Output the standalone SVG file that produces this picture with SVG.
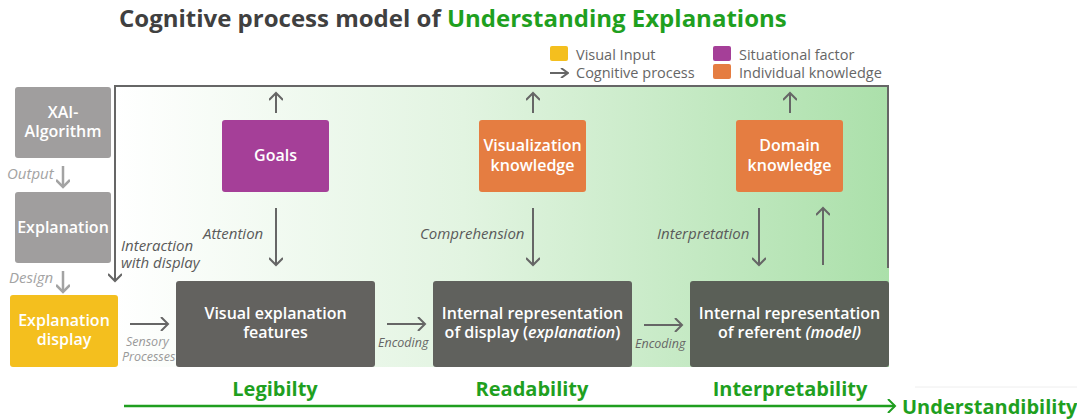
<svg xmlns="http://www.w3.org/2000/svg" width="1077" height="420" viewBox="0 0 1077 420">
<defs>
<linearGradient id="panelGrad" x1="0" y1="0" x2="1" y2="0">
<stop offset="0" stop-color="#ffffff"/>
<stop offset="0.45" stop-color="#e2f4e1"/>
<stop offset="1" stop-color="#abe0aa"/>
</linearGradient>
<marker id="ah" viewBox="0 0 10 10" refX="9" refY="5" markerWidth="10" markerHeight="10" markerUnits="userSpaceOnUse" orient="auto">
<path d="M2,0 L9,5 L2,10" fill="none" stroke="#666" stroke-width="2"/>
</marker>
<marker id="ahL" viewBox="0 0 14 14" refX="12" refY="7" markerWidth="14" markerHeight="14" markerUnits="userSpaceOnUse" orient="auto">
<path d="M5,0 L12,7 L5,14" fill="none" stroke="#666" stroke-width="2"/>
</marker>
<marker id="ahG" viewBox="0 0 14 14" refX="12" refY="7" markerWidth="14" markerHeight="14" markerUnits="userSpaceOnUse" orient="auto">
<path d="M5,0 L12,7 L5,14" fill="none" stroke="#1f9e1f" stroke-width="2"/>
</marker>
<marker id="ahS" viewBox="0 0 14 14" refX="12" refY="7" markerWidth="14" markerHeight="14" markerUnits="userSpaceOnUse" orient="auto">
<path d="M5,0 L12,7 L5,14" fill="none" stroke="#a3a3a3" stroke-width="2.5"/>
</marker>
</defs>
<style>
text { font-family: "Open Sans", "DejaVu Sans", sans-serif; }
.title { font-size: 24px; font-weight: 700; fill: #404040; }
.green { fill: #1fa01f; }
.legend { font-size: 14.5px; fill: #666; }
.box { font-size: 16px; font-weight: 600; fill: #ffffff; text-anchor: middle; }
.lbl { font-size: 15px; font-style: italic; fill: #5a5a5a; }
.lblg { font-size: 15px; font-style: italic; fill: #a3a3a3; }
.small { font-size: 12.5px; font-style: italic; fill: #999; }
.phase { font-size: 20px; font-weight: 700; fill: #1fa01f; text-anchor: middle; }
.arr { fill: none; stroke: #666; stroke-width: 2; }
.arrS { fill: none; stroke: #a3a3a3; stroke-width: 2.5; }
</style>

<text class="title" x="119" y="27">Cognitive process model of <tspan class="green">Understanding Explanations</tspan></text>

<g id="legend">
<rect x="550" y="46" width="18" height="15" rx="2" fill="#f4bf1e"/>
<text class="legend" x="576" y="60">Visual Input</text>
<line x1="550" y1="73" x2="568" y2="73" class="arr" marker-end="url(#ah)"/>
<text class="legend" x="576" y="78">Cognitive process</text>
<rect x="713" y="46" width="18" height="15" rx="2" fill="#a53f98"/>
<text class="legend" x="739" y="60">Situational factor</text>
<rect x="713" y="64" width="18" height="15" rx="2" fill="#e57d41"/>
<text class="legend" x="739" y="78">Individual knowledge</text>
</g>

<g id="panel">
<rect x="115" y="86" width="774" height="281" fill="url(#panelGrad)"/>
</g>

<g id="connectors">
<path d="M115,280 L115,86 L888,86 L888,268" class="arr"/>
<line x1="115" y1="270" x2="115" y2="281" class="arr" marker-end="url(#ahL)"/>
<line x1="276" y1="113" x2="276" y2="93" class="arr" marker-end="url(#ahL)"/>
<line x1="533" y1="113" x2="533" y2="93" class="arr" marker-end="url(#ahL)"/>
<line x1="790" y1="113" x2="790" y2="93" class="arr" marker-end="url(#ahL)"/>
<line x1="276" y1="208" x2="276" y2="265" class="arr" marker-end="url(#ahL)"/>
<line x1="533" y1="208" x2="533" y2="265" class="arr" marker-end="url(#ahL)"/>
<line x1="759" y1="208" x2="759" y2="265" class="arr" marker-end="url(#ahL)"/>
<line x1="823" y1="265" x2="823" y2="208" class="arr" marker-end="url(#ahL)"/>
<line x1="130" y1="324" x2="168" y2="324" class="arr" marker-end="url(#ahL)"/>
<line x1="387" y1="324" x2="425" y2="324" class="arr" marker-end="url(#ahL)"/>
<line x1="644" y1="325" x2="682" y2="325" class="arr" marker-end="url(#ahL)"/>
<line x1="63" y1="166" x2="63" y2="187" class="arrS" marker-end="url(#ahS)"/>
<line x1="63" y1="271" x2="63" y2="292" class="arrS" marker-end="url(#ahS)"/>
<line x1="124" y1="406" x2="895" y2="406" fill="none" stroke="#1f9e1f" stroke-width="2.5" marker-end="url(#ahG)"/>
<line x1="915" y1="387" x2="1077" y2="387" stroke="#eeeeee" stroke-width="1"/>
</g>

<g id="labels">
<text class="lblg" x="7" y="179">Output</text>
<text class="lblg" x="9" y="283">Design</text>
<text class="lbl" x="121" y="251">Interaction</text>
<text class="lbl" x="121" y="268">with display</text>
<text class="lbl" x="203" y="239">Attention</text>
<text class="lbl" x="420" y="239">Comprehension</text>
<text class="lbl" x="657" y="239">Interpretation</text>
<text class="small" x="126" y="346">Sensory</text>
<text class="small" x="122" y="361">Processes</text>
<text class="small" x="378" y="347" style="fill:#666">Encoding</text>
<text class="small" x="635" y="348" style="fill:#666">Encoding</text>
<text class="phase" x="275" y="396">Legibilty</text>
<text class="phase" x="532" y="396">Readability</text>
<text class="phase" x="790" y="396">Interpretability</text>
<text class="phase" x="902" y="414" style="text-anchor:start">Understandibility</text>
</g>

<g id="xai-algorithm">
<rect x="15" y="87" width="96" height="71" rx="3" fill="#a09e9e"/>
<text class="box" x="63" y="118">XAI-</text>
<text class="box" x="63" y="137">Algorithm</text>
</g>
<g id="explanation">
<rect x="15" y="192" width="96" height="71" rx="3" fill="#a09e9e"/>
<text class="box" x="63" y="233">Explanation</text>
</g>
<g id="explanation-display">
<rect x="10" y="295" width="108" height="72" rx="3" fill="#f4bf1e"/>
<text class="box" x="64" y="326">Explanation</text>
<text class="box" x="64" y="345">display</text>
</g>
<g id="goals">
<rect x="222" y="120" width="107" height="72" rx="3" fill="#a53f98"/>
<text class="box" x="275.5" y="161">Goals</text>
</g>
<g id="visualization-knowledge">
<rect x="479" y="120" width="107" height="72" rx="3" fill="#e57d41"/>
<text class="box" x="532.5" y="151">Visualization</text>
<text class="box" x="532.5" y="171">knowledge</text>
</g>
<g id="domain-knowledge">
<rect x="736" y="120" width="107" height="72" rx="3" fill="#e57d41"/>
<text class="box" x="789.5" y="151">Domain</text>
<text class="box" x="789.5" y="171">knowledge</text>
</g>
<g id="visual-explanation-features">
<rect x="176" y="281" width="199" height="86" rx="3" fill="#63625f"/>
<text class="box" x="275.5" y="319">Visual explanation</text>
<text class="box" x="275.5" y="338">features</text>
</g>
<g id="internal-display">
<rect x="433" y="281" width="199" height="86" rx="3" fill="#60615d"/>
<text class="box" x="532.5" y="319">Internal representation</text>
<text class="box" x="532.5" y="338">of display (<tspan font-style="italic">explanation</tspan>)</text>
</g>
<g id="internal-referent">
<rect x="690" y="281" width="199" height="86" rx="3" fill="#5a5f57"/>
<text class="box" x="789.5" y="319">Internal representation</text>
<text class="box" x="789.5" y="338">of referent <tspan font-style="italic">(model)</tspan></text>
</g>
</svg>
